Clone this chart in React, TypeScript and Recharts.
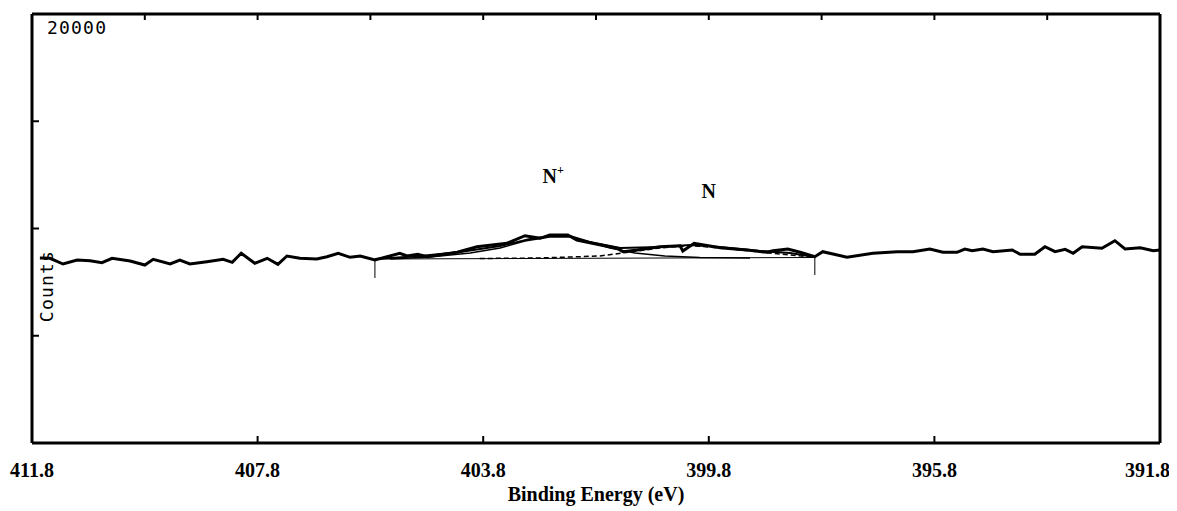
import React from "react";
import {
  Label,
  Line,
  LineChart,
  ReferenceDot,
  XAxis,
  YAxis,
} from "recharts";

// measured spectrum (binding energy in eV, counts)
const rawEnergy = [
  411.66, 411.48, 411.25, 411.0, 410.77, 410.56, 410.38, 410.06, 409.8, 409.65,
  409.35, 409.18, 409.0, 408.7, 408.41, 408.25, 408.09, 407.85, 407.63, 407.44,
  407.28, 407.05, 406.75, 406.57, 406.37, 406.16, 405.98, 405.72, 405.28, 405.15,
  404.96, 404.8, 404.26, 403.91, 403.38, 403.06, 402.79, 402.62, 402.3, 402.14,
  401.78, 401.43, 401.32, 401.07, 400.67, 400.31, 400.26, 400.06, 399.6, 399.12,
  398.77, 398.66, 398.4, 398.18, 397.92, 397.78, 397.35, 396.89, 396.46, 396.18,
  395.88, 395.65, 395.4, 395.26, 395.13, 394.94, 394.76, 394.42, 394.28, 394.02,
  393.84, 393.66, 393.48, 393.34, 393.18, 392.83, 392.6, 392.42, 392.15, 391.92,
  391.8,
];
const rawCounts = [
  8625, 8611, 8345, 8531, 8499, 8406, 8611, 8485, 8298, 8564,
  8345, 8531, 8345, 8452, 8564, 8424, 8844, 8378, 8611, 8331,
  8718, 8611, 8578, 8685, 8844, 8657, 8718, 8531, 8844, 8718,
  8797, 8685, 8890, 9152, 9310, 9664, 9543, 9697, 9697, 9464,
  9264, 9077, 8918, 8998, 9152, 9198, 8951, 9310, 9105, 8998,
  8890, 8965, 9044, 8890, 8685, 8918, 8657, 8844, 8918, 8918,
  9044, 8890, 8890, 9044, 8965, 9044, 8918, 8998, 8797, 8797,
  9152, 8918, 9030, 8844, 9152, 9077, 9431, 9044, 9105, 8965,
  8998,
];

// fitted envelope
const fitEnergy = [405.72, 404.92, 404.21, 403.5, 402.97, 402.62, 402.26, 401.91, 401.37, 400.67, 400.13, 399.6, 398.89, 398.36, 397.92];
const fitCounts = [8578, 8718, 8904, 9184, 9510, 9650, 9650, 9371, 9091, 9138, 9231, 9138, 8951, 8858, 8671];

// N+ component
const nPlusEnergy = [405.45, 404.74, 404.03, 403.5, 403.06, 402.62, 402.26, 401.91, 401.55, 401.11, 400.58, 399.96, 399.07];
const nPlusCounts = [8578, 8671, 8858, 9091, 9417, 9604, 9604, 9371, 9091, 8858, 8718, 8648, 8625];

// N component
const nEnergy = [403.86, 402.79, 401.73, 401.2, 400.67, 400.13, 399.6, 399.07, 398.54, 398.09, 397.92];
const nCounts = [8601, 8625, 8718, 8904, 9091, 9208, 9091, 8951, 8811, 8695, 8648];

// linear background and its end markers
const baseEnergy = [405.72, 397.92];
const baseCounts = [8578, 8648];
const markerLow = [7692, 7832];

const peakNames = ["N", "N"];
const peakSup = ["+", ""];
const peakEnergy = [402.56, 399.8];
const peakCounts = [12121, 11422];

const energyTicks = [411.8, 407.8, 403.8, 399.8, 395.8, 391.8];
const topTicks = [409.8, 407.8, 405.8, 403.8, 401.8, 399.8, 397.8, 395.8, 393.8];
const countTicks = [0, 5000, 10000, 15000, 20000];

const pts = (e: number[], c: number[]) => e.map((v, i) => ({ e: v, c: c[i] }));

const raw = pts(rawEnergy, rawCounts);
const fit = pts(fitEnergy, fitCounts);
const nPlus = pts(nPlusEnergy, nPlusCounts);
const nComp = pts(nEnergy, nCounts);
const base = pts(baseEnergy, baseCounts);
const markers = baseEnergy.map((e, i) => [
  { e, c: baseCounts[i] },
  { e, c: markerLow[i] },
]);

const serif = "'Liberation Serif', 'Times New Roman', serif";
const mono = "'DejaVu Sans Mono', monospace";

function BottomTick(props: any) {
  const { x, y, payload } = props;
  const v = payload.value;
  const edge = v === 411.8 || v === 391.8;
  const last = v === 391.8;
  return (
    <g>
      {!edge && <line x1={x} x2={x} y1={y} y2={y - 7} stroke="#000" strokeWidth={2} />}
      <text
        x={last ? x + 10 : x}
        y={y + 34}
        textAnchor={last ? "end" : "middle"}
        fontFamily={serif}
        fontWeight="bold"
        fontSize={20}
        fill="#000"
      >
        {v.toFixed(1)}
      </text>
    </g>
  );
}

function TopTick(props: any) {
  const { x, y } = props;
  return <line x1={x} x2={x} y1={y} y2={y + 6} stroke="#000" strokeWidth={2} />;
}

function LeftTick(props: any) {
  const { x, y, payload } = props;
  const v = payload.value;
  if (v === 20000) {
    return (
      <text x={x + 15} y={y + 20} fontFamily={mono} fontSize={18} letterSpacing={1.2} fill="#000">
        20000
      </text>
    );
  }
  if (v === 0) return <g />;
  return <line x1={x} x2={x + 7} y1={y} y2={y} stroke="#000" strokeWidth={2} />;
}

function RightTick(props: any) {
  const { x, y, payload } = props;
  const v = payload.value;
  if (v === 0 || v === 20000) return <g />;
  return <line x1={x} x2={x - 7} y1={y} y2={y} stroke="#000" strokeWidth={2} />;
}

const frame = { stroke: "#000", strokeWidth: 3 };

export default function App() {
  return (
    <LineChart width={1161} height={503} margin={{ top: 5, right: 8, left: 23, bottom: 0 }}>
      <XAxis
        dataKey="e"
        type="number"
        domain={[391.8, 411.8]}
        reversed
        allowDataOverflow
        ticks={energyTicks}
        interval={0}
        height={68}
        tickSize={0}
        tickMargin={0}
        tickLine={false}
        axisLine={frame}
        tick={<BottomTick />}
      >
        <Label
          content={(p: any) => {
            const vb = p.viewBox;
            return (
              <text
                x={vb.x + vb.width / 2}
                y={vb.y + 58}
                textAnchor="middle"
                fontFamily={serif}
                fontWeight="bold"
                fontSize={20}
                fill="#000"
              >
                Binding Energy (eV)
              </text>
            );
          }}
        />
      </XAxis>
      <XAxis
        xAxisId="top"
        orientation="top"
        dataKey="e"
        type="number"
        domain={[391.8, 411.8]}
        reversed
        allowDataOverflow
        ticks={topTicks}
        interval={0}
        height={1}
        tickSize={0}
        tickMargin={0}
        tickLine={false}
        axisLine={frame}
        tick={<TopTick />}
      />
      <YAxis
        type="number"
        domain={[0, 20000]}
        allowDataOverflow
        ticks={countTicks}
        interval={0}
        width={1}
        tickSize={0}
        tickMargin={0}
        tickLine={false}
        axisLine={frame}
        tick={<LeftTick />}
      >
        <Label
          content={(p: any) => {
            const vb = p.viewBox;
            const x = vb.x + vb.width + 21;
            const y = vb.y + 272;
            return (
              <text
                x={x}
                y={y}
                transform={`rotate(-90, ${x}, ${y})`}
                textAnchor="middle"
                fontFamily={mono}
                fontSize={18}
                letterSpacing={1.2}
                fill="#000"
              >
                Counts
              </text>
            );
          }}
        />
      </YAxis>
      <YAxis
        yAxisId="right"
        orientation="right"
        type="number"
        domain={[0, 20000]}
        ticks={countTicks}
        interval={0}
        width={1}
        tickSize={0}
        tickMargin={0}
        tickLine={false}
        axisLine={frame}
        tick={<RightTick />}
      />

      <Line data={base} dataKey="c" stroke="#000" strokeWidth={1} dot={false} isAnimationActive={false} />
      <Line data={nComp} dataKey="c" stroke="#000" strokeWidth={1.5} strokeDasharray="5 3" dot={false} isAnimationActive={false} />
      <Line data={nPlus} dataKey="c" stroke="#000" strokeWidth={1.5} dot={false} isAnimationActive={false} />
      <Line data={fit} dataKey="c" stroke="#000" strokeWidth={2} dot={false} isAnimationActive={false} />
      <Line data={raw} dataKey="c" stroke="#000" strokeWidth={3} dot={false} isAnimationActive={false} />
      {markers.map((m, i) => (
        <Line key={i} data={m} dataKey="c" stroke="#000" strokeWidth={1} dot={false} isAnimationActive={false} />
      ))}

      {peakNames.map((name, i) => (
        <ReferenceDot
          key={name + i}
          x={peakEnergy[i]}
          y={peakCounts[i]}
          r={0}
          shape={(p: any) => (
            <text x={p.cx} y={p.cy} textAnchor="middle" fontFamily={serif} fontWeight="bold" fontSize={20} fill="#000">
              {name}
              {peakSup[i] && (
                <tspan dy={-9} fontSize={12}>
                  {peakSup[i]}
                </tspan>
              )}
            </text>
          )}
        />
      ))}
    </LineChart>
  );
}
